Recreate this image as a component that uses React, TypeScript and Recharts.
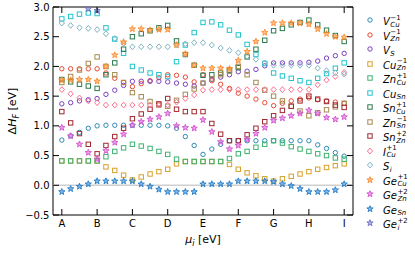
import React from "react";
import { ScatterChart, Scatter, XAxis, YAxis, ReferenceLine, ReferenceArea } from "recharts";

document.body.style.margin = "0";

// chemical potential path points A..I, 4 steps between neighbours
const categories = ["A", "B", "C", "D", "E", "F", "G", "H", "I"];
const yTicks = [-0.5, 0, 0.5, 1, 1.5, 2, 2.5, 3];
const stepsPerSegment = 4;

const vCu = [0.76, 0.83, 0.89, 0.96, 1.0, 1.01, 1.01, 1.01, 1.01, 1.01, 1.01, 1.01, 1.0, 0.96, 0.82, 0.67, 0.52, 0.61, 0.69, 0.75, 0.75, 0.75, 0.75, 0.75, 0.75, 0.75, 0.75, 0.75, 0.75, 0.68, 0.62, 0.55, 0.49];
const vZn = [1.96, 1.96, 1.96, 1.96, 1.96, 1.89, 1.8, 1.73, 1.66, 1.71, 1.76, 1.81, 1.86, 1.85, 1.82, 1.74, 1.86, 1.76, 1.7, 1.63, 1.55, 1.5, 1.45, 1.39, 1.34, 1.38, 1.42, 1.45, 1.47, 1.44, 1.42, 1.4, 1.38];
const vS = [1.37, 1.39, 1.42, 1.44, 1.46, 1.53, 1.6, 1.68, 1.75, 1.75, 1.75, 1.75, 1.74, 1.72, 1.7, 1.67, 1.72, 1.78, 1.82, 1.86, 1.91, 1.92, 1.95, 2.01, 2.06, 2.06, 2.06, 2.06, 2.07, 2.09, 2.14, 2.18, 2.22];
const cuZn = [0.41, 0.41, 0.41, 0.41, 0.41, 0.31, 0.25, 0.17, 0.09, 0.14, 0.19, 0.23, 0.27, 0.36, 0.4, 0.4, 0.4, 0.4, 0.4, 0.35, 0.27, 0.21, 0.16, 0.11, 0.07, 0.11, 0.15, 0.19, 0.23, 0.27, 0.3, 0.33, 0.36];
const znCu = [0.41, 0.41, 0.41, 0.41, 0.41, 0.48, 0.57, 0.63, 0.69, 0.66, 0.62, 0.57, 0.52, 0.44, 0.4, 0.4, 0.4, 0.4, 0.4, 0.45, 0.53, 0.57, 0.64, 0.69, 0.75, 0.71, 0.65, 0.61, 0.57, 0.53, 0.5, 0.46, 0.44];
const cuSn = [2.8, 2.84, 2.88, 2.9, 2.89, 2.65, 2.46, 2.22, 2.0, 1.94, 1.89, 1.86, 1.83, 2.08, 2.36, 2.57, 2.74, 2.75, 2.7, 2.61, 2.53, 2.37, 2.2, 2.05, 1.89, 1.84, 1.8, 1.76, 1.73, 1.8, 1.88, 1.97, 2.06];
const snCu = [1.78, 1.74, 1.7, 1.67, 1.63, 1.86, 2.06, 2.29, 2.5, 2.55, 2.6, 2.65, 2.69, 2.43, 2.2, 2.02, 1.85, 1.86, 1.89, 1.94, 1.98, 2.16, 2.29, 2.44, 2.6, 2.64, 2.7, 2.74, 2.78, 2.7, 2.61, 2.52, 2.42];
const znSn = [1.73, 1.83, 1.94, 2.05, 2.16, 2.0, 1.86, 1.73, 1.56, 1.49, 1.41, 1.35, 1.33, 1.43, 1.53, 1.62, 1.72, 1.79, 1.86, 1.92, 2.0, 1.86, 1.73, 1.6, 1.5, 1.42, 1.33, 1.25, 1.17, 1.22, 1.27, 1.32, 1.38];
const snZn = [1.24, 1.05, 0.87, 0.69, 0.53, 0.67, 0.82, 0.96, 1.12, 1.2, 1.28, 1.37, 1.46, 1.28, 1.24, 1.24, 1.24, 1.04, 0.86, 0.75, 0.75, 0.85, 0.96, 1.07, 1.17, 1.26, 1.33, 1.42, 1.5, 1.45, 1.41, 1.35, 1.31];
const iCu = [1.61, 1.54, 1.47, 1.42, 1.39, 1.35, 1.35, 1.35, 1.35, 1.35, 1.35, 1.35, 1.35, 1.4, 1.46, 1.52, 1.6, 1.61, 1.61, 1.61, 1.61, 1.61, 1.61, 1.61, 1.61, 1.61, 1.61, 1.61, 1.61, 1.69, 1.77, 1.83, 1.9];
const sI = [2.73, 2.69, 2.65, 2.64, 2.62, 2.55, 2.47, 2.39, 2.33, 2.33, 2.33, 2.33, 2.33, 2.36, 2.38, 2.4, 2.4, 2.36, 2.31, 2.27, 2.23, 2.17, 2.12, 2.06, 2.02, 2.02, 2.02, 2.02, 2.02, 1.97, 1.93, 1.89, 1.87];
const geCu = [1.77, 1.77, 1.78, 1.78, 1.75, 2.0, 2.19, 2.41, 2.63, 2.63, 2.61, 2.62, 2.62, 2.36, 2.21, 2.02, 1.97, 1.97, 1.97, 1.96, 2.1, 2.25, 2.42, 2.57, 2.73, 2.73, 2.73, 2.73, 2.71, 2.63, 2.55, 2.5, 2.49];
const geZn = [0.97, 0.83, 0.69, 0.55, 0.44, 0.58, 0.72, 0.86, 1.01, 1.07, 1.11, 1.15, 1.21, 1.0, 0.97, 0.96, 1.1, 0.9, 0.73, 0.61, 0.67, 0.77, 0.87, 0.97, 1.09, 1.13, 1.17, 1.21, 1.26, 1.21, 1.14, 1.11, 1.15];
const geSn = [-0.11, -0.06, -0.02, 0.02, 0.07, 0.07, 0.07, 0.07, 0.07, 0.02, -0.02, -0.07, -0.11, -0.11, -0.11, -0.11, 0.02, 0.02, 0.02, 0.02, 0.07, 0.07, 0.07, 0.07, 0.06, 0.02, -0.01, -0.06, -0.11, -0.11, -0.11, -0.08, 0.02];
// mostly above the top of the plot
const geI = [null, null, null, 2.97, 2.94, null, null, null, null, null, null, null, null, null, null, null, null, null, null, null, null, null, null, null, null, null, null, null, null, null, null, null, null];

const seriesValues = [vCu, vZn, vS, cuZn, znCu, cuSn, snCu, znSn, snZn, iCu, sI, geCu, geZn, geSn, geI];
const seriesLabels: [string, string, string][] = [
  ["V", "Cu", "\u22121"],
  ["V", "Zn", "\u22121"],
  ["V", "S", ""],
  ["Cu", "Zn", "\u22121"],
  ["Zn", "Cu", "+1"],
  ["Cu", "Sn", ""],
  ["Sn", "Cu", "+1"],
  ["Zn", "Sn", "\u22121"],
  ["Sn", "Zn", "+2"],
  ["I", "Cu", "+1"],
  ["S", "i", ""],
  ["Ge", "Cu", "+1"],
  ["Ge", "Zn", "+2"],
  ["Ge", "Sn", ""],
  ["Ge", "i", "+2"],
];
const seriesColors = ["#2f8bb5", "#ea4a35", "#7d40c0", "#d6a128", "#3cb371", "#22c4cc", "#2c7a4c", "#a58a50", "#a0282e", "#ff6f8f", "#80b4c2", "#ff8a2a", "#d452cf", "#1f7bc9", "#6f6fc8"];
const seriesMarkers = ["circle", "circle", "circle", "square", "square", "square", "square", "square", "square", "diamond", "diamond", "star", "star", "star", "star"];

const PLOT_LEFT = 53;
const PLOT_RIGHT = 353;
const PLOT_TOP = 7;
const PLOT_BOTTOM = 215;
const TICK_LEN = 6;
const FONT = "DejaVu Sans, sans-serif";

function starPath(cx: number, cy: number, ro: number, ri: number) {
  let d = "";
  for (let k = 0; k < 10; k++) {
    const r = k % 2 === 0 ? ro : ri;
    const a = -Math.PI / 2 + (k * Math.PI) / 5;
    d += (k === 0 ? "M" : "L") + (cx + r * Math.cos(a)).toFixed(2) + "," + (cy + r * Math.sin(a)).toFixed(2);
  }
  return d + "Z";
}

function Marker({ cx, cy, kind, color }: { cx?: number; cy?: number; kind: string; color: string }) {
  if (cx == null || cy == null) return null;
  if (kind === "circle") return <circle cx={cx} cy={cy} r={2.2} fill="none" stroke={color} strokeWidth={1} />;
  if (kind === "square") return <rect x={cx - 2.2} y={cy - 2.2} width={4.4} height={4.4} fill="none" stroke={color} strokeWidth={1} />;
  if (kind === "diamond")
    return <path d={`M${cx},${cy - 2.9}L${cx + 2.6},${cy}L${cx},${cy + 2.9}L${cx - 2.6},${cy}Z`} fill="none" stroke={color} strokeWidth={1} />;
  return <path d={starPath(cx, cy, 3.3, 1.4)} fill={color} fillOpacity={0.55} stroke={color} strokeWidth={0.9} />;
}

function XTick(props: any) {
  const { x, payload } = props;
  return (
    <g>
      <line x1={x} x2={x} y1={PLOT_BOTTOM} y2={PLOT_BOTTOM - TICK_LEN} stroke="#000" strokeWidth={1} />
      <line x1={x} x2={x} y1={PLOT_TOP} y2={PLOT_TOP + TICK_LEN} stroke="#000" strokeWidth={1} />
      <text x={x} y={227} textAnchor="middle" fontFamily={FONT} fontSize={10} fill="#000">
        {categories[payload.value]}
      </text>
    </g>
  );
}

function YTick(props: any) {
  const { y, payload } = props;
  const v = payload.value as number;
  const label = (v < 0 ? "\u2212" : "") + Math.abs(v).toFixed(1);
  return (
    <g>
      <line x1={PLOT_LEFT} x2={PLOT_LEFT + TICK_LEN} y1={y} y2={y} stroke="#000" strokeWidth={1} />
      <line x1={PLOT_RIGHT} x2={PLOT_RIGHT - TICK_LEN} y1={y} y2={y} stroke="#000" strokeWidth={1} />
      <text x={PLOT_LEFT - 3.5} y={y + 3.6} textAnchor="end" fontFamily={FONT} fontSize={10} fill="#000">
        {label}
      </text>
    </g>
  );
}

function LegendLabel({ base, sub, sup }: { base: string; sub: string; sup: string }) {
  return (
    <span style={{ display: "inline-flex", alignItems: "center", fontFamily: FONT, fontStyle: "italic", fontSize: 10, color: "#000" }}>
      <span>{base}</span>
      <span style={{ display: "inline-flex", flexDirection: "column", fontSize: 7, lineHeight: "7px", marginLeft: 0.5 }}>
        <span style={{ fontStyle: "normal" }}>{sup || "\u00a0"}</span>
        <span>{sub}</span>
      </span>
    </span>
  );
}

export default function App() {
  const series = seriesValues.map((vals) =>
    vals
      .map((v, i) => ({ x: i / stepsPerSegment, y: v }))
      .filter((p) => p.y !== null)
  );

  return (
    <div style={{ position: "relative", width: 415, height: 260, background: "#fff" }}>
      <ScatterChart width={415} height={260} margin={{ top: PLOT_TOP, right: 415 - PLOT_RIGHT, bottom: 0, left: 0 }}>
        <XAxis
          type="number"
          dataKey="x"
          domain={[-0.25, 8.25]}
          ticks={[0, 1, 2, 3, 4, 5, 6, 7, 8]}
          interval={0}
          height={260 - PLOT_BOTTOM}
          axisLine={false}
          tickLine={false}
          tick={<XTick />}
          allowDataOverflow
        />
        <YAxis
          type="number"
          dataKey="y"
          domain={[-0.5, 3]}
          ticks={yTicks}
          interval={0}
          width={PLOT_LEFT}
          axisLine={false}
          tickLine={false}
          tick={<YTick />}
          allowDataOverflow
        />
        <ReferenceLine y={0} stroke="#cfcfcf" strokeWidth={1.5} />
        {series.map((pts, k) => (
          <Scatter
            key={k}
            data={pts}
            isAnimationActive={false}
            shape={(p: any) => <Marker cx={p.cx} cy={p.cy} kind={seriesMarkers[k]} color={seriesColors[k]} />}
          />
        ))}
        <ReferenceArea x1={-0.25} x2={8.25} y1={-0.5} y2={3} fill="none" stroke="#000" strokeWidth={1} fillOpacity={0} />
      </ScatterChart>

      <svg width={415} height={260} style={{ position: "absolute", left: 0, top: 0, pointerEvents: "none" }}>
        <text transform="translate(16,111) rotate(-90)" textAnchor="middle" fontFamily={FONT} fontSize={11} fill="#000">
          <tspan>Δ</tspan>
          <tspan fontStyle="italic">H</tspan>
          <tspan fontStyle="italic" fontSize={8} dy={2.5}>F</tspan>
          <tspan dy={-2.5}> [eV]</tspan>
        </text>
        <text x={203} y={243} textAnchor="middle" fontFamily={FONT} fontSize={11} fill="#000">
          <tspan fontStyle="italic">μ</tspan>
          <tspan fontStyle="italic" fontSize={8} dy={2.5}>i</tspan>
          <tspan dy={-2.5}> [eV]</tspan>
        </text>
      </svg>

      {seriesLabels.map(([base, sub, sup], k) => (
        <div
          key={k}
          style={{ position: "absolute", left: 364, top: 20 + 14.5 * k - 7, height: 14, display: "flex", alignItems: "center" }}
        >
          <svg width={12} height={14}>
            <Marker cx={6} cy={7} kind={seriesMarkers[k]} color={seriesColors[k]} />
          </svg>
          <span style={{ marginLeft: 7 }}>
            <LegendLabel base={base} sub={sub} sup={sup} />
          </span>
        </div>
      ))}
    </div>
  );
}
